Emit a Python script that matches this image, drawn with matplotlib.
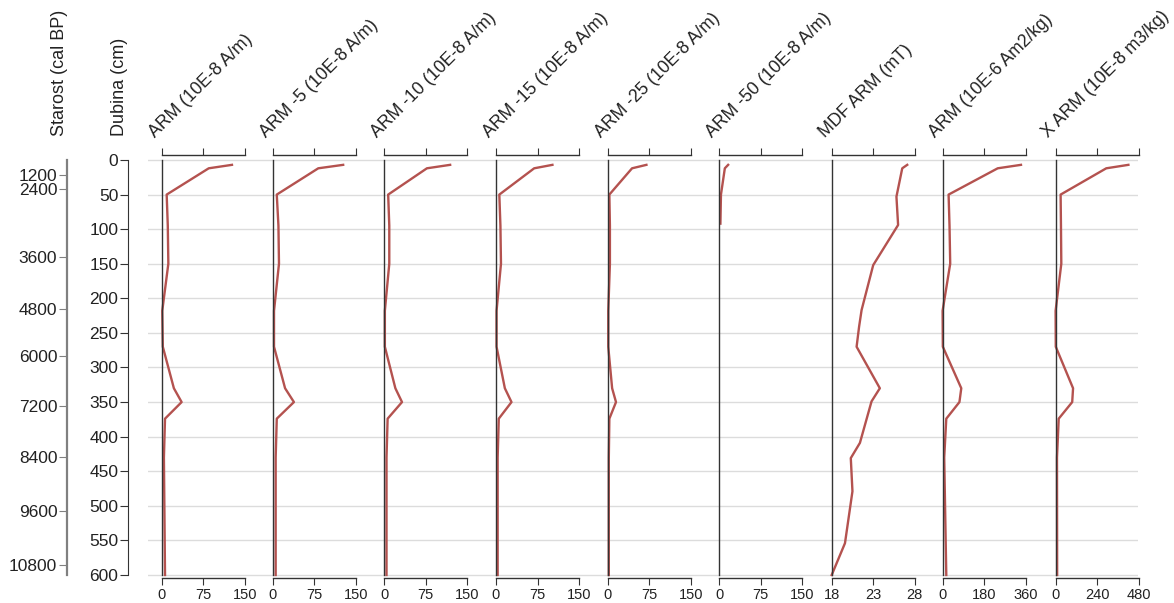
import matplotlib
matplotlib.use("Agg")
import matplotlib.pyplot as plt
import numpy as np

plt.rcParams['font.family'] = ['Liberation Sans', 'DejaVu Sans']

# depth samples (cm) shared by the ARM curves
depth = [7, 12, 50, 95, 150, 218, 270, 330, 350, 374, 430, 600]
arm = [127, 85, 9, 11, 12, 1, 2, 22, 36, 6, 4, 6]
arm_5 = [127, 82, 7, 10, 11, 2, 2, 22, 38, 7, 5, 5]
arm_10 = [119, 77, 7, 9, 9, 1, 1, 20, 32, 6, 4, 4]
arm_15 = [102, 69, 6, 8, 9, 1, 1, 16, 28, 5, 3, 3]
arm_25 = [70, 44, 3, 4, 4, 1, 1, 8, 15, 3, 2, 2]
depth_50 = [7, 12, 50, 92]
arm_50 = [16, 10, 3, 2]
arm_mass = [340, 239, 26, 30, 33, 0, 1, 81, 73, 16, 7, 16]
x_arm = [421, 293, 29, 31, 33, 0, 1, 101, 96, 18, 8, 9]

depth_mdf = [7, 12, 53, 94, 152, 217, 241, 270, 330, 349, 409, 431, 479, 554, 600]
mdf = [27.1, 26.5, 25.8, 26.0, 23.0, 21.6, 21.3, 21.0, 23.8, 22.8, 21.4, 20.3, 20.5, 19.6, 18.0]

titles = ['ARM (10E-8 A/m)', 'ARM -5 (10E-8 A/m)', 'ARM -10 (10E-8 A/m)',
          'ARM -15 (10E-8 A/m)', 'ARM -25 (10E-8 A/m)', 'ARM -50 (10E-8 A/m)',
          'MDF ARM (mT)', 'ARM (10E-6 Am2/kg)', 'X ARM (10E-8 m3/kg)']
ranges = [(0, 150), (0, 150), (0, 150), (0, 150), (0, 150), (0, 150),
          (18, 28), (0, 360), (0, 480)]
series = [(depth, arm), (depth, arm_5), (depth, arm_10), (depth, arm_15),
          (depth, arm_25), (depth_50, arm_50), (depth_mdf, mdf),
          (depth, arm_mass), (depth, x_arm)]

# age scale (cal BP) and the depths where those ages fall
ages = [1200, 2400, 3600, 4800, 6000, 7200, 8400, 9600, 10800]
age_depth = [22, 42, 140, 215, 284, 355, 429, 507, 586]

W, H = 1174, 603
fig = plt.figure(figsize=(W / 100, H / 100), dpi=100)
txt = '#222222'
red = '#b4524f'

def px_axes(x0, y0, x1, y1):
    return fig.add_axes([x0 / W, 1 - y1 / H, (x1 - x0) / W, (y1 - y0) / H])

y0_px, y1_px = 155, 578
ylim = (600 + 3 * 600 / 415, -5 * 600 / 415)

# background grid
bg = px_axes(148, y0_px, 1138, y1_px)
bg.set_ylim(ylim)
bg.set_xlim(0, 1)
bg.axis('off')
for d in range(0, 601, 50):
    bg.axhline(d, color='#dcdcdc', lw=1)

# depth axis
ax_d = px_axes(128, y0_px, 140, y1_px)
ax_d.set_ylim(ylim)
ax_d.patch.set_visible(False)
for s in ['top', 'right', 'bottom']:
    ax_d.spines[s].set_visible(False)
ax_d.spines['left'].set_bounds(0, 600)
ax_d.spines['left'].set_color('#333333')
ax_d.set_xticks([])
ax_d.set_yticks(range(0, 601, 50))
ax_d.tick_params(axis='y', length=6, pad=1, labelsize=12.5, colors=txt, color='#333333')

# age axis
ax_a = px_axes(67, y0_px, 80, y1_px)
ax_a.set_ylim(ylim)
ax_a.patch.set_visible(False)
for s in ['top', 'right', 'bottom']:
    ax_a.spines[s].set_visible(False)
ax_a.spines['left'].set_bounds(0, 600)
ax_a.spines['left'].set_color('#808080')
ax_a.spines['left'].set_linewidth(1.6)
ax_a.set_xticks([])
ax_a.set_yticks(age_depth)
ax_a.set_yticklabels([str(a) for a in ages])
ax_a.tick_params(axis='y', length=6, pad=1, labelsize=12.5, colors=txt, color='#808080')

fig.text(120 / W, 1 - 136 / H, 'Dubina (cm)', rotation=90, ha='center', va='bottom',
         fontsize=13, color=txt)
fig.text(60 / W, 1 - 136 / H, 'Starost (cal BP)', rotation=90, ha='center', va='bottom',
         fontsize=13, color=txt)

lefts = [161.7, 272.9, 384.3, 496.0, 607.7, 719.3, 831.7, 942.6, 1055.6]
pw = 83
for left, title, (lo, hi), (d, v) in zip(lefts, titles, ranges, series):
    ax = px_axes(left, y0_px, left + pw, y1_px)
    ax.patch.set_visible(False)
    ax.set_ylim(ylim)
    ax.set_xlim(lo, hi)
    ax.plot(v, d, color=red, lw=1.7, clip_on=False)
    ax.spines['right'].set_visible(False)
    ax.spines['left'].set_bounds(0, 600)
    for s in ['left', 'top', 'bottom']:
        ax.spines[s].set_color('#333333')
        ax.spines[s].set_linewidth(1)
    ax.set_yticks([])
    ticks = [lo, (lo + hi) / 2, hi]
    ax.set_xticks(ticks)
    ax.set_xticklabels([str(int(t)) for t in ticks])
    ax.tick_params(axis='x', top=True, bottom=True, labeltop=False, labelbottom=True,
                   direction='out', length=5, pad=2, labelsize=10.5, colors=txt,
                   color='#333333')
    fig.text((left - 7) / W, 1 - 138 / H, title, rotation=45, rotation_mode='anchor',
             ha='left', va='baseline', fontsize=12.7, color=txt)

fig.savefig('out.png', dpi=100)
